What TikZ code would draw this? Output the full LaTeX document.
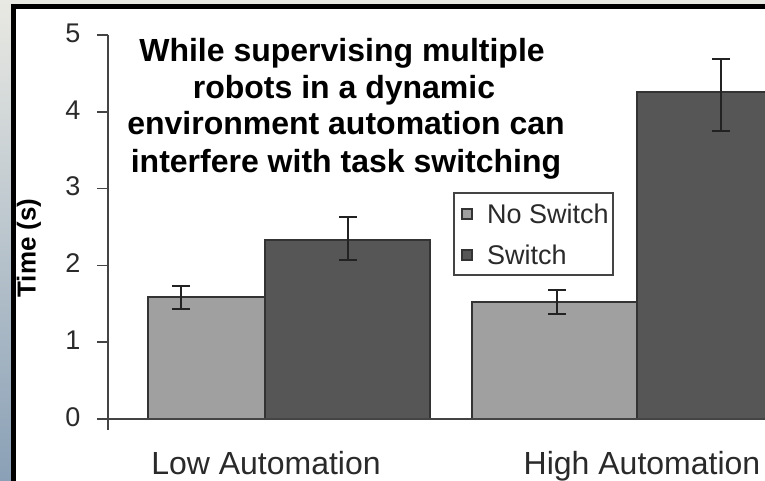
\documentclass[tikz,border=0pt]{standalone}
\usepackage{fontspec}
\setmainfont{Liberation Sans}
\definecolor{stripTop}{HTML}{E9E9E3}
\definecolor{stripBot}{HTML}{8AA0B6}
\definecolor{barlight}{HTML}{A0A0A0}
\definecolor{bardark}{HTML}{565656}
\definecolor{baredge}{HTML}{333333}
\definecolor{axisgrey}{HTML}{444444}
\definecolor{errgrey}{HTML}{222222}
\definecolor{labelgrey}{HTML}{2A2A2A}
% one error whisker: x, top y, bottom y
\newcommand\errwhisker[3]{%
  \draw[errbar] (#1,#2) -- (#1,#3) (#1-9,#2) -- (#1+9,#2) (#1-9,#3) -- (#1+9,#3);}
\begin{document}
\begin{tikzpicture}[x=1pt,y=-1pt,
  axisline/.style={draw=axisgrey,line width=1.6pt},
  lowbar/.style={fill=barlight,draw=baredge,line width=1.8pt},
  highbar/.style={fill=bardark,draw=baredge,line width=1.8pt},
  errbar/.style={draw=errgrey,line width=2.2pt},
  ticklabel/.style={font=\fontsize{27}{27}\selectfont,inner sep=0pt,text=labelgrey},
  catlabel/.style={font=\fontsize{32}{32}\selectfont,inner sep=0pt,anchor=base,text=labelgrey},
  titleline/.style={font=\bfseries\fontsize{32}{32}\selectfont,inner sep=0pt,anchor=base},
  legtext/.style={font=\fontsize{27}{27}\selectfont,inner sep=0pt,anchor=west,text=labelgrey},
  legkey/.style={draw=baredge,line width=1.2pt,minimum size=10pt,inner sep=0pt}]
\useasboundingbox (0,0) rectangle (765,481);
% page backdrop and frame
\fill[white] (0,0) rectangle (765,481);
\shade[top color=stripTop,bottom color=stripBot] (0,0) rectangle (11,481);
\fill[stripTop] (0,0) rectangle (765,4);
\fill[black] (11,4) rectangle (765,9);
\fill[black] (11,4) rectangle (16,481);

% bars
\draw[lowbar]  (148,419) rectangle (265,297);
\draw[highbar] (265,419) rectangle (430,240);
\draw[lowbar]  (472,419) rectangle (637,302);
\draw[highbar] (637,419) rectangle (772,92);

% error whiskers
\errwhisker{181}{286}{309}
\errwhisker{348}{217}{260}
\errwhisker{557}{290}{314}
\errwhisker{721}{59}{131}

% axes
\draw[axisline] (108,35) -- (108,430);
\draw[axisline] (97,419) -- (765,419);
\foreach \v [count=\i from 0] in {0,1,2,3,4,5}{
  \draw[axisline] (97,419-76.8*\v) -- (108,419-76.8*\v);
  \node[ticklabel] (tick\i) at (73,417-76.8*\v) {\v};
}
\node[font=\bfseries\fontsize{26}{26}\selectfont,inner sep=0pt,rotate=90] (ylab) at (29,248) {Time (s)};

% categories
\node[catlabel] (low)  at (266,474) {Low Automation};
\node[catlabel] (high) at (642,474) {High Automation};

% headline
\node[titleline] (t1) at (342,62)  {While supervising multiple};
\node[titleline] (t2) at (344,98.5) {robots in a dynamic};
\node[titleline] (t3) at (346,135) {environment automation can};
\node[titleline] (t4) at (346,172) {interfere with task switching};

% legend
\draw[draw=axisgrey,line width=1.5pt,fill=white] (454,193) rectangle (613,275);
\node[legkey,fill=barlight] (k1) at (467,214) {};
\node[legkey,fill=bardark]  (k2) at (467,255) {};
\node[legtext] (l1) at (487,214) {No Switch};
\node[legtext] (l2) at (487,255) {Switch};
\end{tikzpicture}
\end{document}
